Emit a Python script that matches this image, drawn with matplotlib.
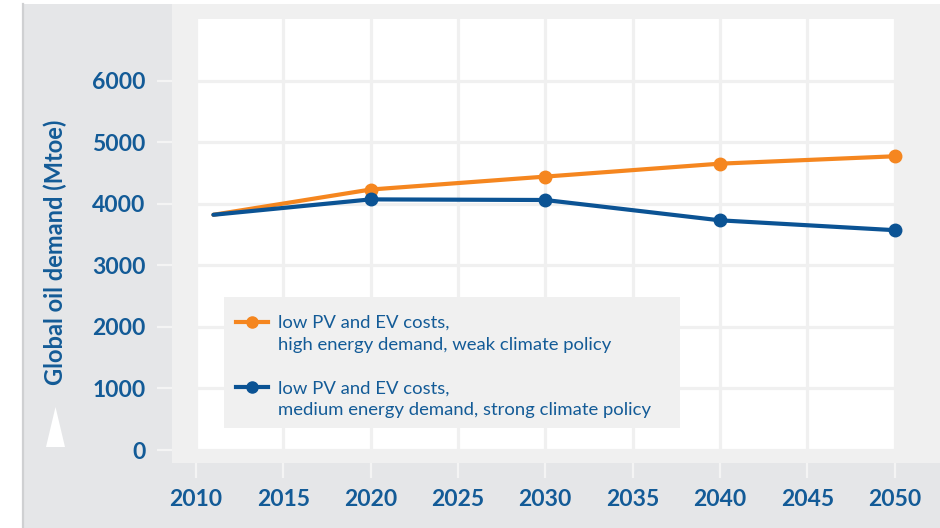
import matplotlib
matplotlib.use("Agg")
import matplotlib.pyplot as plt
from matplotlib.patches import Rectangle, Polygon
from matplotlib.lines import Line2D

plt.rcParams['font.family'] = ['Lato', 'DejaVu Sans']

# ---- data ----
years_a = [2011, 2020, 2030, 2040, 2050]
oil_a = [3820, 4230, 4440, 4650, 4770]   # low PV/EV, high demand, weak policy
years_b = [2011, 2020, 2030, 2040, 2050]
oil_b = [3820, 4070, 4060, 3730, 3570]   # low PV/EV, medium demand, strong policy
label_a = ["low PV and EV costs,", "high energy demand, weak climate policy"]
label_b = ["low PV and EV costs,", "medium energy demand, strong climate policy"]
xticks = [2010, 2015, 2020, 2025, 2030, 2035, 2040, 2045, 2050]
yticks = [0, 1000, 2000, 3000, 4000, 5000, 6000]
ylabel = "Global oil demand (Mtoe)"

ORANGE = '#f5861f'
BLUE = '#0b5394'
TXT = '#135b97'
OUTER = '#e5e6e8'
PANEL = '#f0f0f0'

W, H = 940, 528
fig = plt.figure(figsize=(W / 100, H / 100), dpi=100, facecolor='white')

def fx(px):
    return px / W

def fy(py):
    return 1 - py / H

# outer gray background
fig.patches.append(Rectangle((fx(22), 0), 1 - fx(22), fy(4), transform=fig.transFigure,
                             facecolor=OUTER, edgecolor='none', zorder=-5))
fig.lines.append(Line2D([fx(23), fx(23)], [0, fy(4)], transform=fig.transFigure,
                        color='#cfd0d2', lw=1.6, zorder=-4))

ax = fig.add_axes([fx(172), fy(463), 1 - fx(172), fy(4) - fy(463)])
ax.set_facecolor(PANEL)
ax.set_xlim(2008.63, 2052.6)
ax.set_ylim(-211, 7243)
ax.add_patch(Rectangle((2010, 0), 40, 7000, facecolor='white', edgecolor='none', zorder=0.5))

for x in xticks:
    ax.axvline(x, color=PANEL, lw=2.3, zorder=0.8)
for y in yticks:
    ax.axhline(y, color=PANEL, lw=2.3, zorder=0.8)

for s in ax.spines.values():
    s.set_visible(False)

ax.plot(years_a, oil_a, color=ORANGE, lw=3.0, zorder=3, solid_capstyle='round')
ax.plot(years_a[1:], oil_a[1:], 'o', color=ORANGE, ms=9, zorder=4)
ax.plot(years_b, oil_b, color=BLUE, lw=3.0, zorder=3, solid_capstyle='round')
ax.plot(years_b[1:], oil_b[1:], 'o', color=BLUE, ms=9, zorder=4)

ax.set_xticks(xticks)
ax.set_yticks(yticks)
ax.set_xticklabels([str(v) for v in xticks])
ax.set_yticklabels([str(v) for v in yticks])
ax.tick_params(axis='both', direction='out', length=11, width=1.6, color='#f4f4f4',
               labelcolor=TXT, labelsize=16.5, pad=8)
for lab in ax.get_xticklabels() + ax.get_yticklabels():
    lab.set_fontweight('bold')

# y label and arrow
fig.text(fx(55), fy(252), ylabel, rotation=90, ha='center', va='center',
         fontsize=17, fontweight='bold', color=TXT)
fig.patches.append(Polygon([(fx(46), fy(447)), (fx(65), fy(447)), (fx(55.5), fy(407))],
                           closed=True, transform=fig.transFigure, facecolor='white',
                           edgecolor='none', zorder=2))

# legend
ax.add_patch(Rectangle(((224 - 172) / 768, (463 - 428) / 459),
                       (680 - 224) / 768, (428 - 297) / 459, transform=ax.transAxes,
                       facecolor=PANEL, edgecolor='none', zorder=5))
h_a = Line2D([], [], color=ORANGE, lw=3.0, marker='o', ms=8)
h_b = Line2D([], [], color=BLUE, lw=3.0, marker='o', ms=8)
h_blank = Line2D([], [], color='none', lw=0)
handles = [h_a, h_blank, h_blank, h_b, h_blank]
labels = [label_a[0], label_a[1], '', label_b[0], label_b[1]]
leg = ax.legend(handles, labels, loc='upper left',
                bbox_to_anchor=((236 - 172) / 768, (463 - 315) / 459),
                frameon=False, fontsize=13.3, borderpad=0, borderaxespad=0,
                handlelength=1.73, handletextpad=0.55, labelspacing=0.31,
                labelcolor=TXT)
leg.set_zorder(6)

fig.savefig('out.png', dpi=100, facecolor='white')
